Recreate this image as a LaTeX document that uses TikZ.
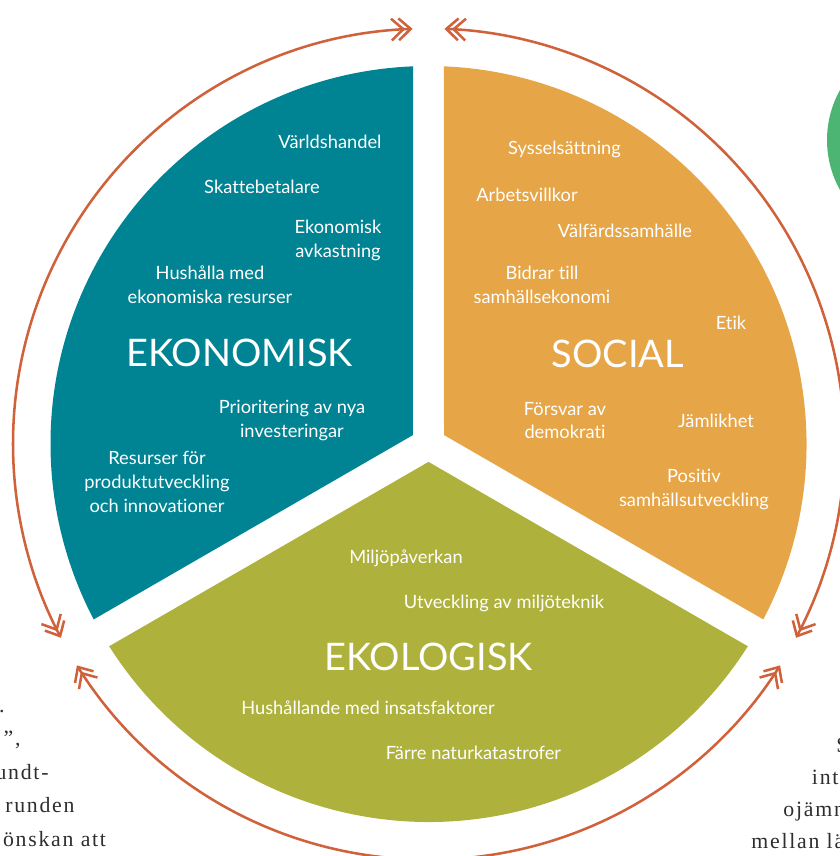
\documentclass[tikz,border=0pt]{standalone}
\usepackage{fontspec}
\setmainfont{Lato}[Ligatures=NoCommon]
\newfontfamily\bodyserif[LetterSpace=8]{Liberation Serif}
\usepackage{tikz}
\usetikzlibrary{arrows.meta}

\definecolor{ekoteal}{HTML}{008393}
\definecolor{socorange}{HTML}{E6A546}
\definecolor{ekoolive}{HTML}{AEB23C}
\definecolor{ringrust}{HTML}{CF613B}
\definecolor{dotgreen}{HTML}{4DB574}
\definecolor{bodygray}{HTML}{2E2E2E}

\tikzset{
  chev/.tip={Straight Barb[length=8.5pt,width=15.5pt,sep=-5.5pt]
    Straight Barb[length=8.5pt,width=15.5pt]},
  ring/.style={draw=ringrust, line width=1.8pt, chev-chev},
  item/.style={text=white, align=center, font=\fontsize{13}{17}\selectfont},
  pillar/.style={text=white, font=\fontsize{27}{32}\selectfont},
  margintext/.style={text=bodygray, font=\bodyserif\fontsize{15.5}{20}\selectfont},
}

\begin{document}
\begin{tikzpicture}[x=0.025cm, y=0.025cm]
        \useasboundingbox (-428.5, -412) rectangle (411.5, 444);
        \clip (-428.5, -412) rectangle (411.5, 444);

        % Green disc at the right edge.
        \fill[dotgreen] (501.1, 304) circle[radius=102.6];

        % Three sectors, with gaps along 90, 210 and 330 degrees.
        \foreach \b/\col in {150/ekoteal, 30/socorange, 270/ekoolive} {
          \fill[\col] (\b:17.9) -- (\b-57.65:378)
          arc[start angle=\b-57.65, end angle=\b+57.65, radius=378] -- cycle;
        }

        % Arrows round the circle.
        \foreach \b in {150, 30, 270} {
          \draw[ring] (\b-57.8:415.5)
          arc[start angle=\b-57.8, end angle=\b+57.8, radius=415.5];
        }

        % Ekonomisk.
        \node[item] (handel) at (-98.5, 302.5) {Världshandel};
        \node[item] (skatt) at (-166.5, 257.5) {Skattebetalare};
        \node[item] (avkastning) at (-90.5, 204) {Ekonomisk\\avkastning};
        \node[item] (hushalla) at (-218.5, 159.5) {Hushålla med\\ekonomiska resurser};
        \node[pillar] (ekonomisk) at (-189, 91) {EKONOMISK};
        \node[item] (prio) at (-136.5, 23.5) {Prioritering av nya\\investeringar};
        \node[item] (resurser) at (-271.5, -38) {Resurser för\\produktutveckling\\och innovationer};

        % Social.
        \node[item] (syssel) at (136, 295) {Sysselsättning};
        \node[item] (arbete) at (98.5, 249) {Arbetsvillkor};
        \node[item] (valfard) at (196.5, 213) {Välfärdssamhälle};
        \node[item] (bidrar) at (113.5, 159.5) {Bidrar till\\samhällsekonomi};
        \node[item] (etik) at (302.5, 121.5) {Etik};
        \node[pillar] (social) at (189.5, 90.5) {SOCIAL};
        \node[item] (forsvar) at (136.5, 23.5) {Försvar av\\demokrati};
        \node[item] (jamlik) at (287.5, 23) {Jämlikhet};
        \node[item] (positiv) at (265.5, -45.5) {Positiv\\samhällsutveckling};

        % Ekologisk.
        \node[item] (miljo) at (-22.5, -114) {Miljöpåverkan};
        \node[item] (miljoteknik) at (75.5, -159) {Utveckling av miljöteknik};
        \node[pillar] (ekologisk) at (0, -213) {EKOLOGISK};
        \node[item] (insats) at (-60.5, -264) {Hushållande med insatsfaktorer};
        \node[item] (katastrof) at (45, -309) {Färre naturkatastrofer};

        % Body text running past the edges.
        \node[margintext, anchor=base east] (left1) at (-419, -268) {.};
        \node[margintext, anchor=base east] (left2) at (-403, -301.5) {”,};
        \node[margintext, anchor=base east] (left3) at (-375, -335) {undt-};
        \node[margintext, anchor=base east] (left4) at (-349, -368.5) {runden};
        \node[margintext, anchor=base east] (left5) at (-317.5, -402) {önskan att};
        \node[margintext, anchor=base west] (right1) at (403, -308) {S};
        \node[margintext, anchor=base west] (right2) at (378.5, -340) {int};
        \node[margintext, anchor=base west] (right3) at (350, -372) {ojämn};
        \node[margintext, anchor=base west] (right4) at (318, -404) {mellan lä};
      \end{tikzpicture}
\end{document}
